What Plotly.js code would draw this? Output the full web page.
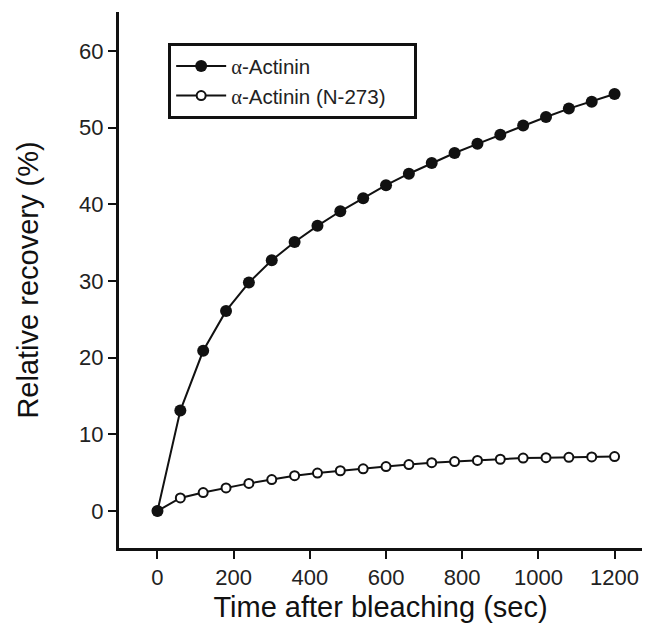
<!DOCTYPE html>
<html>
<head>
<meta charset="utf-8">
<script src="https://cdn.plot.ly/plotly-3.0.1.min.js"></script>
<style>html,body{margin:0;padding:0;background:#fff;}#chart{width:647px;height:631px;}</style>
</head>
<body>
<div id="chart"></div>
<script>
const timeSec = [0,60,120,180,240,300,360,420,480,540,600,660,720,780,840,900,960,1020,1080,1140,1200];
const actinin = [0,13.1,20.9,26.1,29.8,32.7,35.1,37.2,39.1,40.8,42.5,44.0,45.4,46.7,47.9,49.1,50.3,51.4,52.5,53.4,54.4];
const actininN273 = [0,1.7,2.4,3.0,3.6,4.1,4.6,4.95,5.25,5.5,5.8,6.05,6.3,6.45,6.6,6.75,6.9,6.95,7.0,7.05,7.1];
const seriesNames = ['<span style="font-family:Liberation Serif">α</span>-Actinin', '<span style="font-family:Liberation Serif">α</span>-Actinin (N-273)&nbsp;&nbsp;&nbsp;&nbsp;'];
const xTicks = [0,200,400,600,800,1000,1200];
const yTicks = [0,10,20,30,40,50,60];

const traces = [
  {x: timeSec, y: actininN273, name: seriesNames[1], type: 'scatter', mode: 'lines+markers',
   line: {color: '#111', width: 2}, marker: {symbol: 'circle', size: 9, color: '#fff', line: {color: '#111', width: 2}}},
  {x: timeSec, y: actinin, name: seriesNames[0], type: 'scatter', mode: 'lines+markers',
   line: {color: '#111', width: 2}, marker: {symbol: 'circle', size: 12, color: '#111', line: {color: '#111', width: 0}}}
];

const fam = 'Liberation Sans, Arial, sans-serif';
const axisFont = {family: fam, size: 22, color: '#222'};
const layout = {
  width: 647, height: 631,
  margin: {l: 119, r: 5, t: 12, b: 83},
  paper_bgcolor: '#fff', plot_bgcolor: '#fff',
  showlegend: true,
  legend: {x: 0.094, y: 0.942, xanchor: 'left', yanchor: 'top', traceorder: 'reversed',
    bordercolor: '#111', borderwidth: 3, bgcolor: '#fff', itemwidth: 50, tracegroupgap: 0,
    font: {family: fam, size: 20.5, color: '#222'}},
  xaxis: {range: [-101, 1272], tickvals: xTicks, ticktext: xTicks.map(String),
    showgrid: false, zeroline: false, showline: true, linecolor: '#111', linewidth: 3,
    ticks: 'outside', ticklen: 8, tickwidth: 2, tickcolor: '#111', tickfont: axisFont,
    title: {text: 'Time after bleaching (sec)', font: {family: fam, size: 29, color: '#111'}, standoff: 8}},
  yaxis: {range: [-4.83, 65.1], tickvals: yTicks, ticktext: yTicks.map(String),
    showgrid: false, zeroline: false, showline: true, linecolor: '#111', linewidth: 3,
    ticks: 'outside', ticklen: 8, tickwidth: 2, tickcolor: '#111', tickfont: axisFont,
    title: {text: 'Relative recovery (%)', font: {family: fam, size: 29, color: '#111'}, standoff: 32}}
};
Plotly.newPlot('chart', traces, layout, {displayModeBar: false, staticPlot: true});
</script>
</body>
</html>
